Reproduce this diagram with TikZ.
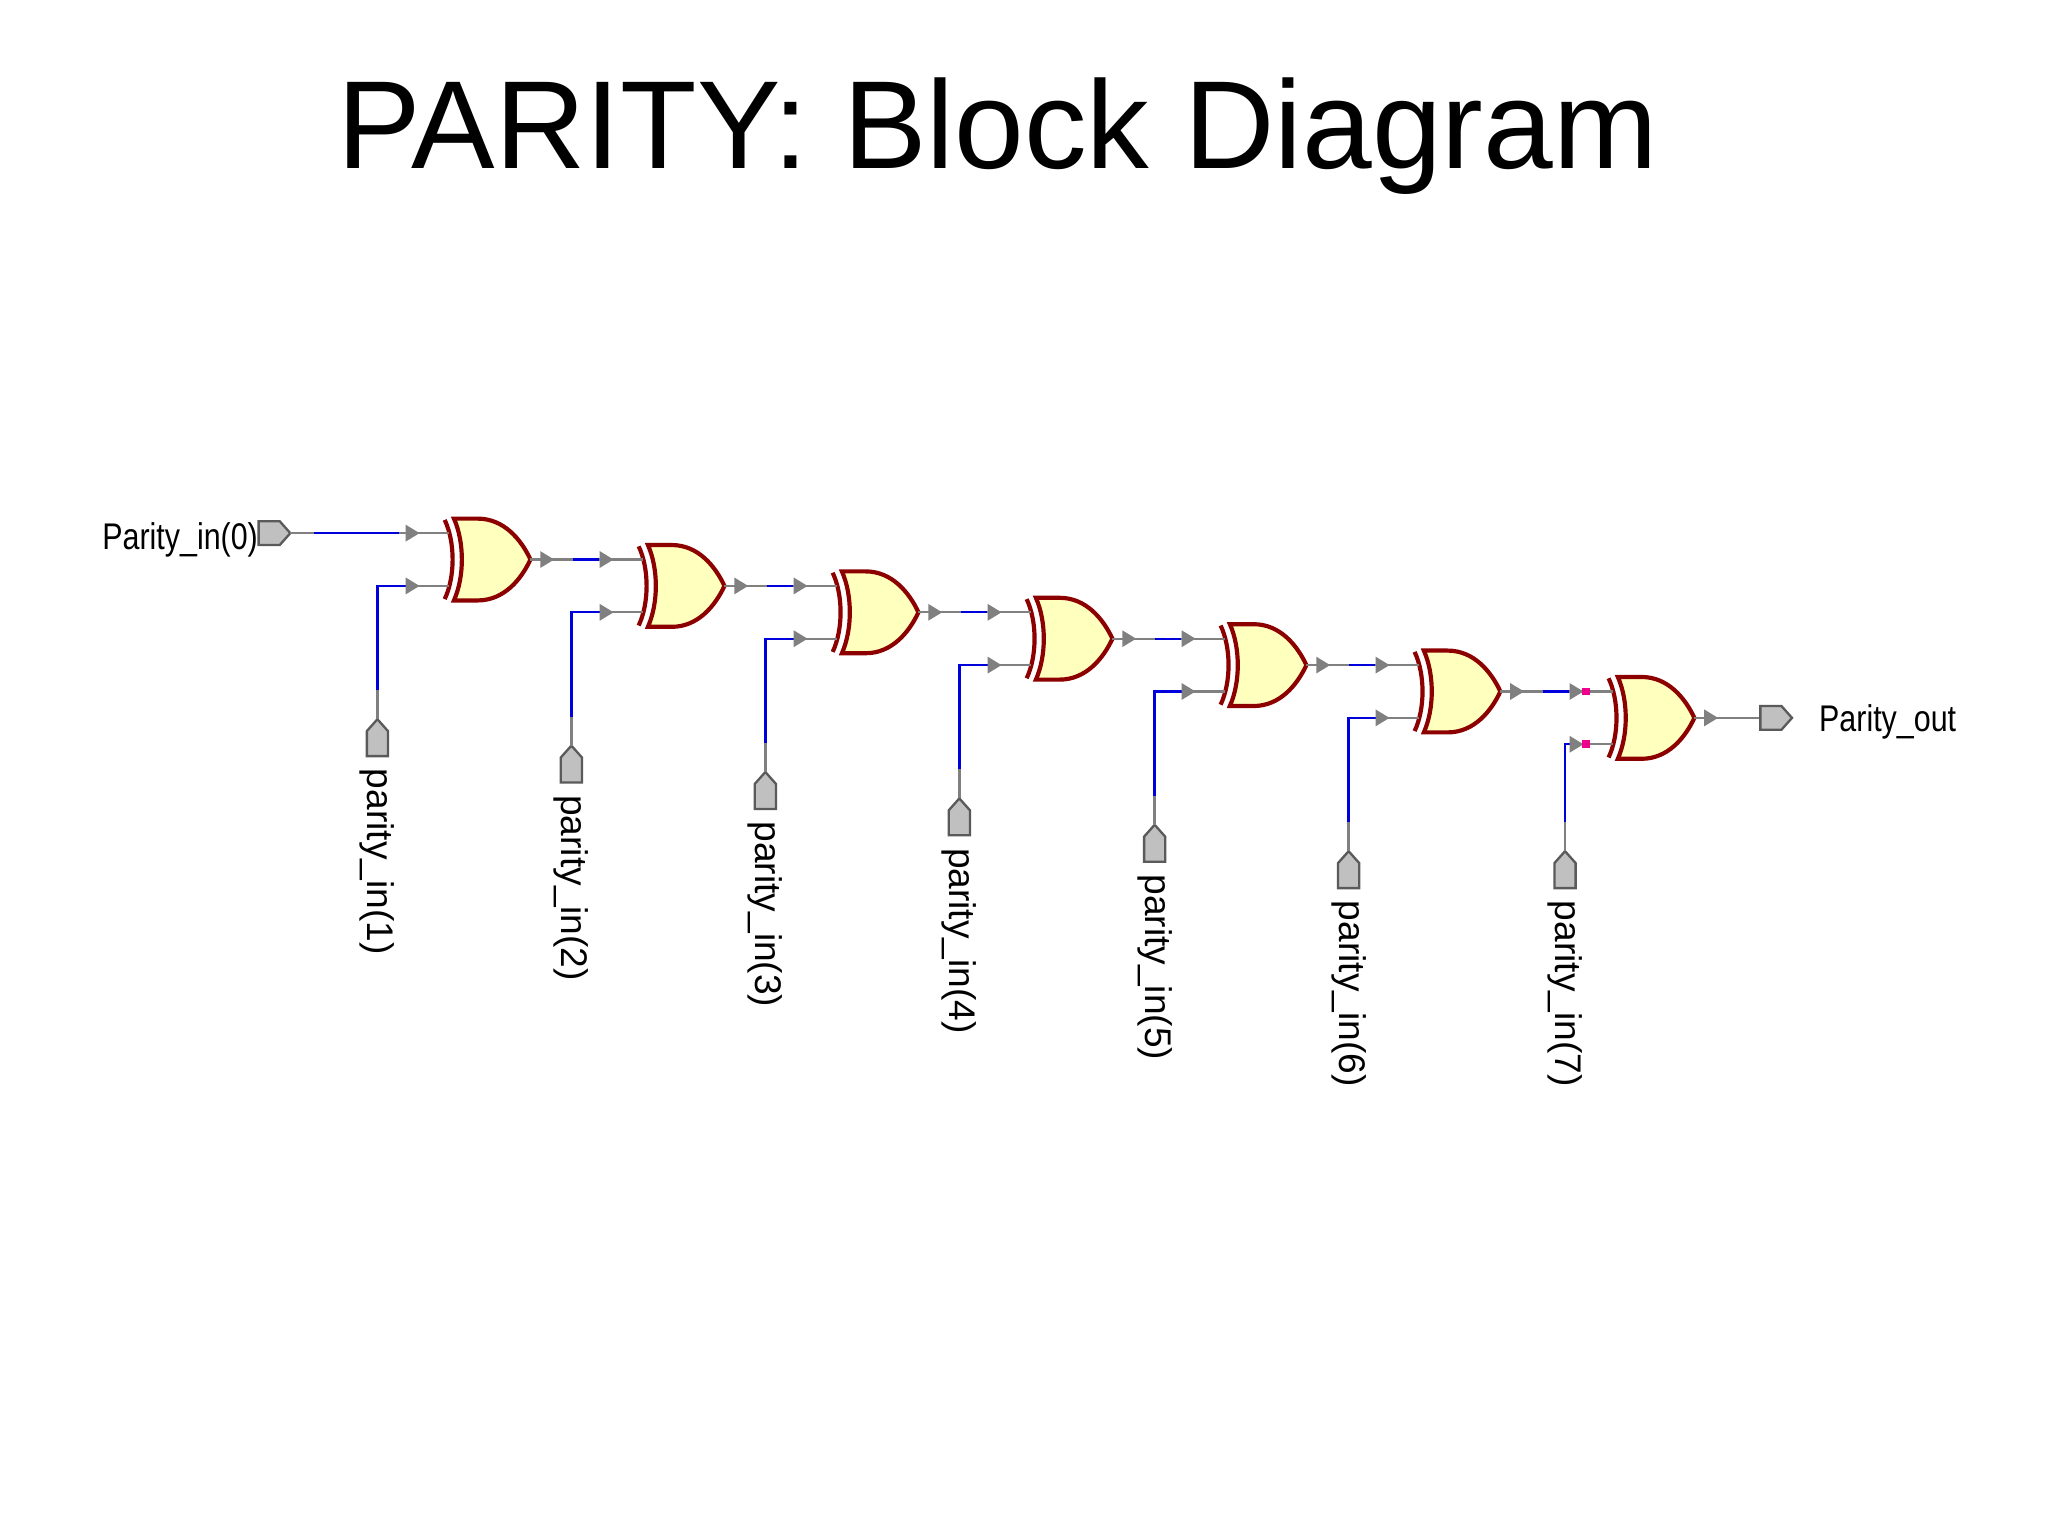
\documentclass[tikz,border=0pt]{standalone}
\usepackage{fontspec}
\setmainfont{Liberation Sans}
\usetikzlibrary{arrows.meta,calc}
\definecolor{gfill}{RGB}{255,255,190}
\definecolor{gred}{RGB}{140,0,0}
\definecolor{pingray}{RGB}{192,192,192}
\definecolor{wgray}{RGB}{128,128,128}
\definecolor{wblue}{RGB}{0,0,220}
\tikzset{
  gate/.style={draw=gred, line width=0.9pt, fill=gfill},
  garc/.style={draw=gred, line width=0.9pt},
  wg/.style={draw=wgray, line width=0.5pt},
  wb/.style={draw=wblue, line width=0.5pt},
  tick/.style={wg, -{Triangle[length=3pt,width=3.5pt]}},
  pinshape/.style={draw=wgray!70!black, fill=pingray, line width=0.5pt},
  lbl/.style={font=\fontsize{8}{9}\selectfont, inner sep=0pt},
  mag/.style={fill=magenta}
}
\begin{document}
\begin{tikzpicture}[x=0.1mm,y=-0.1mm]
\useasboundingbox (0,0) rectangle (1552,1164);
\node[font=\fontsize{27}{30}\selectfont] (title) at (756,103) {PARITY: Block Diagram};
% gates
\foreach \k in {0,...,6}{
  \pgfmathsetmacro\bx{340+147*\k}
  \pgfmathsetmacro\ty{393+20*\k}
  \coordinate (g\k-a) at (\bx,{\ty+11});
  \coordinate (g\k-b) at (\bx,{\ty+51});
  \coordinate (g\k-o) at ({\bx+62},{\ty+31});
  \path[gate] ({\bx+4},\ty) -- ({\bx+22},\ty) .. controls ({\bx+42},\ty) and ({\bx+55},{\ty+16}) .. ({\bx+62},{\ty+31})
     .. controls ({\bx+55},{\ty+46}) and ({\bx+42},{\ty+62}) .. ({\bx+22},{\ty+62}) -- ({\bx+4},{\ty+62})
     .. controls ({\bx+12},{\ty+44}) and ({\bx+12},{\ty+18}) .. cycle;
  \path[garc] ({\bx-3},{\ty+1}) .. controls ({\bx+5},{\ty+18}) and ({\bx+5},{\ty+44}) .. ({\bx-3},{\ty+61});
}
% inter-gate wires
\foreach \k [evaluate=\k as \n using int(\k+1)] in {0,...,5}{
  \draw[wg] (g\k-o) -- (g\n-a);
  \draw[wb] ($(g\k-o)+(32,0)$) -- ($(g\k-o)+(52,0)$);
  \draw[tick] (g\k-o) -- ++(18,0);
  \draw[tick] ($(g\n-a)+(-32,0)$) -- ++(10,0);
}
% first input
\coordinate (p0) at (205,404);
\draw[pinshape] (196,395) -- (212,395) -- (220,404) -- (212,413) -- (196,413) -- cycle;
\node[lbl, anchor=east, xscale=0.82] (l0) at (196,409) {Parity\_in(0)};
\draw[wg] (220,404) -- (g0-a);
\draw[wb] (238,404) -- (302,404);
\draw[tick] ($(g0-a)+(-32,0)$) -- ++(10,0);
% vertical inputs
\foreach \k/\x/\g in {1/286/0,2/433/1,3/580/2,4/727/3,5/875/4,6/1022/5,7/1186/6}{
  \pgfmathsetmacro\pt{545+20*min(\k-1,5)}
  \coordinate (pin\k) at (\x,\pt);
  \draw[pinshape] (pin\k) -- ++(8,9) -- ++(0,19) -- ++(-16,0) -- ++(0,-19) -- cycle;
  \node[lbl, rotate=-90, anchor=west] (l\k) at ($(pin\k)+(0,37)$) {parity\_in(\k)};
  \draw[wg] (pin\k) -- ($(pin\k)+(0,-22)$);
  \draw[wb] ($(pin\k)+(0,-22)$) |- ($(g\g-b)+(-32,0)$);
  \draw[wg] ($(g\g-b)+(-32,0)$) -- (g\g-b);
  \draw[tick] ($(g\g-b)+(-32,0)$) -- ++(10,0);
}
% output
\coordinate (po) at (1334,544);
\draw[wg] (g6-o) -- (po);
\draw[tick] (g6-o) -- ++(18,0);
\draw[pinshape] (1334,535) -- (1350,535) -- (1358,544) -- (1350,553) -- (1334,553) -- cycle;
\node[lbl, anchor=west, xscale=0.82] (lo) at (1378,547) {Parity\_out};
\fill[mag] (1199,521) rectangle (1205,527);
\fill[mag] (1199,561) rectangle (1205,567);
\end{tikzpicture}
\end{document}
